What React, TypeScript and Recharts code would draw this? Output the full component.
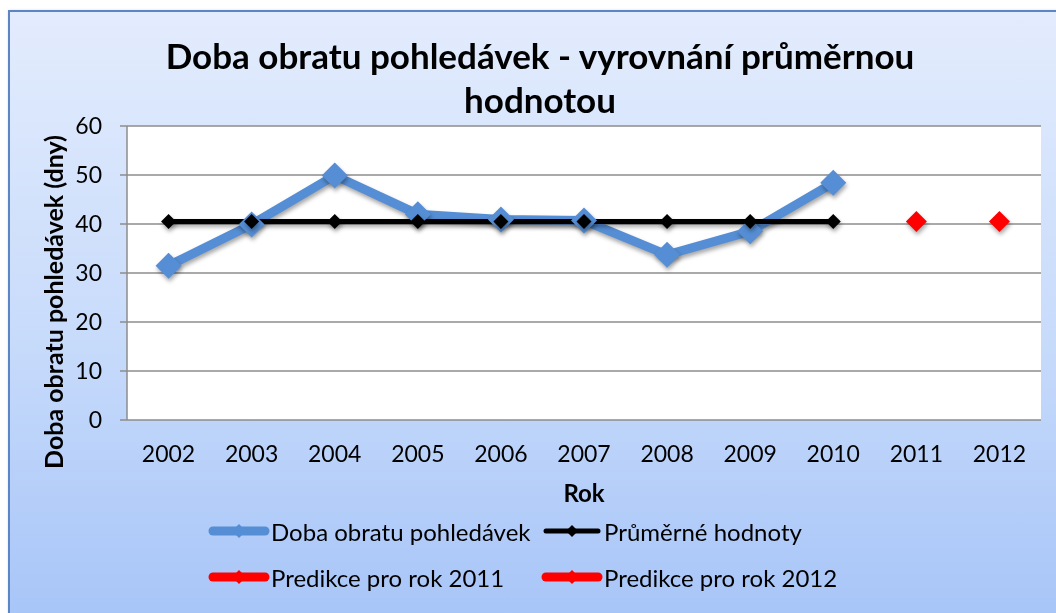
import React from "react";
import { LineChart, Line, XAxis, YAxis, CartesianGrid, Legend } from "recharts";

// years on the category axis
const years = [2002, 2003, 2004, 2005, 2006, 2007, 2008, 2009, 2010, 2011, 2012];
// Doba obratu pohledávek (dny), 2002-2010
const turnoverDays = [31.5, 39.9, 49.9, 42.0, 40.9, 40.7, 33.7, 38.5, 48.4];
// Průměrné hodnoty, 2002-2010
const averageDays = [40.5, 40.5, 40.5, 40.5, 40.5, 40.5, 40.5, 40.5, 40.5];
const prediction2011 = 40.5;
const prediction2012 = 40.5;
const yTicks = [0, 10, 20, 30, 40, 50, 60];

const data = years.map((year, i) => ({
  year,
  turnover: turnoverDays[i],
  average: averageDays[i],
  pred2011: year === 2011 ? prediction2011 : undefined,
  pred2012: year === 2012 ? prediction2012 : undefined,
}));

// tick marks sit between the years, like in Excel
const boundaryTicks = [...years.map((y) => y - 0.5), years[years.length - 1] + 0.5];

const FONT = "Lato, 'Liberation Sans', Arial, sans-serif";
const BLUE = "#558ED5";
const RED = "#FF0000";
const GRID = "#8c8c8c";
const SHADOW = "drop-shadow(1px 3px 2px rgba(0,0,0,0.35))";

const diamond = (r: number, fill: string) => (props: any) => {
  const { cx, cy, index } = props;
  if (cx == null || cy == null || props.value == null) return <g key={`d-${index}`} />;
  return (
    <path
      key={`d-${index}`}
      d={`M${cx},${cy - r}L${cx + r},${cy}L${cx},${cy + r}L${cx - r},${cy}Z`}
      fill={fill}
      style={{ filter: SHADOW }}
    />
  );
};

const legendItems = [
  { name: "Doba obratu pohledávek", color: BLUE, width: 9, r: 7 },
  { name: "Průměrné hodnoty", color: "#000", width: 5, r: 6 },
  { name: "Predikce pro rok 2011", color: RED, width: 9, r: 7 },
  { name: "Predikce pro rok 2012", color: RED, width: 9, r: 7 },
];

function renderLegend() {
  return (
    <div
      style={{
        display: "grid",
        gridTemplateColumns: "333px 333px",
        rowGap: 18,
        fontFamily: FONT,
        fontSize: 24,
        color: "#000",
        whiteSpace: "nowrap",
      }}
    >
      {legendItems.map((item) => (
        <div key={item.name} style={{ display: "flex", alignItems: "center", height: 28 }}>
          <svg width={62} height={20} style={{ marginRight: 1, flexShrink: 0 }}>
            <line
              x1={5}
              x2={57}
              y1={10}
              y2={10}
              stroke={item.color}
              strokeWidth={item.width}
              strokeLinecap="round"
            />
            <path
              d={`M31,${10 - item.r}L${31 + item.r},10L31,${10 + item.r}L${31 - item.r},10Z`}
              fill={item.color}
            />
          </svg>
          <span>{item.name}</span>
        </div>
      ))}
    </div>
  );
}

function YLabel(props: any) {
  const { viewBox } = props;
  const x = viewBox.x + 23;
  const y = viewBox.y + viewBox.height / 2 + 29;
  return (
    <text
      x={x}
      y={y}
      transform={`rotate(-90, ${x}, ${y})`}
      textAnchor="middle"
      dominantBaseline="central"
      fontFamily={FONT}
      fontWeight="bold"
      fontSize={25}
      fill="#000"
    >
      Doba obratu pohledávek (dny)
    </text>
  );
}

export default function App() {
  return (
    <div style={{ position: "fixed", left: 0, top: 0, width: 1056, height: 613, overflow: "hidden" }}>
      <style>{`.recharts-line-curve { filter: ${SHADOW}; }`}</style>
      <div
        style={{
          position: "absolute",
          left: 8,
          top: 10,
          width: 1060,
          height: 620,
          borderLeft: "2px solid #5b85c5",
          borderTop: "2px solid #5b85c5",
          background: "linear-gradient(180deg, #e3ecfd 0%, #c9dcfb 50%, #a6c4f8 100%)",
          boxShadow: "1px 1px 3px rgba(0,0,0,0.25)",
        }}
      />
      <div
        style={{
          position: "absolute",
          left: 40,
          top: 33,
          width: 1000,
          textAlign: "center",
          fontFamily: FONT,
          fontWeight: "bold",
          fontSize: 35,
          lineHeight: "44px",
          color: "#000",
        }}
      >
        Doba obratu pohledávek - vyrovnání průměrnou
        <br />
        hodnotou
      </div>
      <div style={{ position: "absolute", left: 0, top: 0 }}>
        <LineChart
          width={1056}
          height={613}
          data={data}
          margin={{ top: 126, right: 15, left: 30, bottom: 103 }}
        >
          <CartesianGrid
            xAxisId="main"
            vertical={false}
            stroke={GRID}
            strokeWidth={1.3}
            fill="#ffffff"
            fillOpacity={1}
          />
          <XAxis
            xAxisId="ticks"
            dataKey="year"
            type="number"
            domain={[2001.5, 2012.5]}
            ticks={boundaryTicks}
            interval={0}
            tickFormatter={() => ""}
            height={0}
            tickSize={7}
            axisLine={{ stroke: GRID, strokeWidth: 1.5 }}
            tickLine={{ stroke: GRID, strokeWidth: 1.5 }}
          />
          <XAxis
            xAxisId="main"
            dataKey="year"
            type="number"
            domain={[2001.5, 2012.5]}
            ticks={years}
            interval={0}
            height={90}
            axisLine={false}
            tickLine={false}
            tickSize={0}
            tickMargin={26}
            tick={{ fill: "#000", fontSize: 23, fontFamily: FONT }}
            label={{
              value: "Rok",
              position: "insideBottom",
              offset: 8,
              fill: "#000",
              fontSize: 24,
              fontWeight: "bold",
              fontFamily: FONT,
            }}
          />
          <YAxis
            domain={[0, 60]}
            ticks={yTicks}
            interval={0}
            width={97}
            tickSize={7}
            tickMargin={18}
            axisLine={{ stroke: GRID, strokeWidth: 1.5 }}
            tickLine={{ stroke: GRID, strokeWidth: 1.5 }}
            tick={{ fill: "#000", fontSize: 23, fontFamily: FONT }}
            label={<YLabel />}
          />
          <Legend
            layout="horizontal"
            verticalAlign="middle"
            align="center"
            content={renderLegend}
            wrapperStyle={{ position: "absolute", left: 208, top: 517, width: 700 }}
          />
          <Line
            xAxisId="main"
            type="linear"
            dataKey="turnover"
            stroke={BLUE}
            strokeWidth={9}
            dot={diamond(13, BLUE)}
            activeDot={false}
            isAnimationActive={false}
          />
          <Line
            xAxisId="main"
            type="linear"
            dataKey="average"
            stroke="#000"
            strokeWidth={5}
            dot={diamond(7.5, "#000")}
            activeDot={false}
            isAnimationActive={false}
          />
          <Line
            xAxisId="main"
            type="linear"
            dataKey="pred2011"
            stroke={RED}
            strokeWidth={9}
            dot={diamond(10.5, RED)}
            activeDot={false}
            isAnimationActive={false}
          />
          <Line
            xAxisId="main"
            type="linear"
            dataKey="pred2012"
            stroke={RED}
            strokeWidth={9}
            dot={diamond(10.5, RED)}
            activeDot={false}
            isAnimationActive={false}
          />
        </LineChart>
      </div>
    </div>
  );
}
